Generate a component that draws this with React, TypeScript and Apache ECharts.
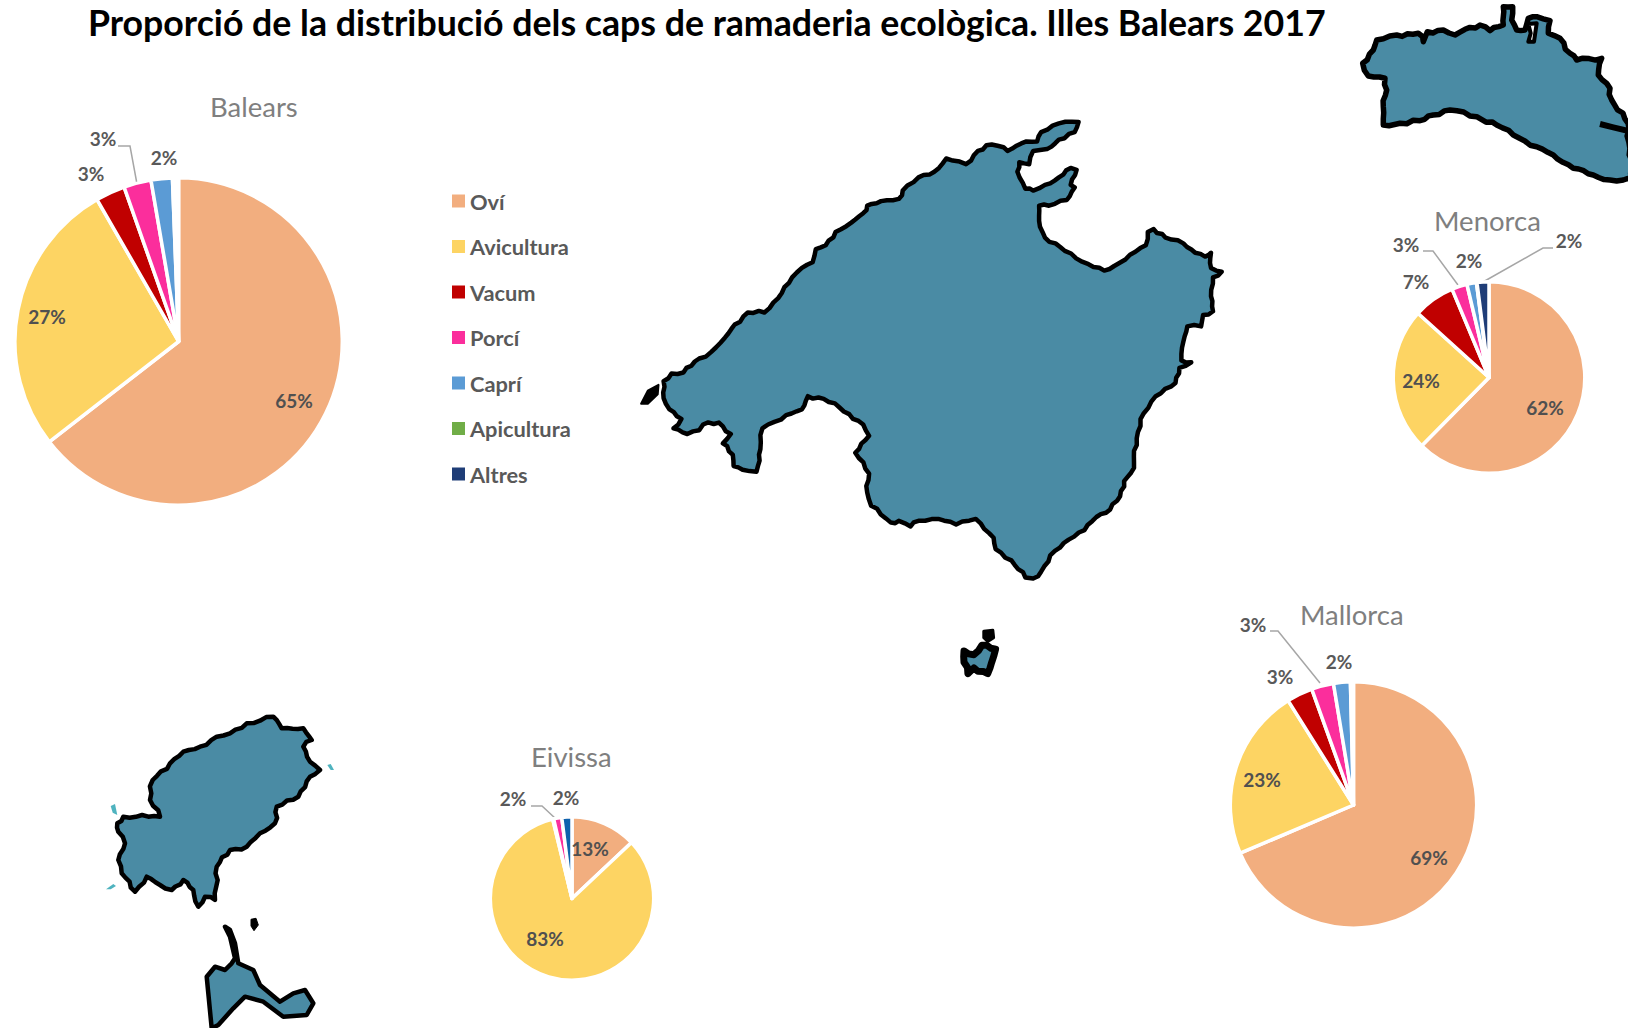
import React, { useEffect, useRef } from "react";
import * as echarts from "echarts";

const titleText = "Proporció de la distribució dels caps de ramaderia ecològica. Illes Balears 2017";
const categories = ["Oví", "Avicultura", "Vacum", "Porcí", "Caprí", "Apicultura", "Altres"];
const colors = ["#F2AE7F", "#FDD463", "#C00000", "#FB2E9C", "#5B9BD5", "#70AD47", "#1F3D77"];

const balears = [64.5, 27.2, 2.9, 2.7, 2.1, 0.2, 0.4];
const menorca = [62.4, 24.3, 7.0, 2.6, 1.6, 0.1, 2.0];
const mallorca = [68.6, 22.5, 3.4, 2.9, 2.2, 0, 0.4];
const eivissa = [13.0, 83.2, 0.2, 1.6, 2.0, 0, 0];

type Pt = number[];
const balearsLabels: (Pt | null)[] = [[294, 400], [47, 316], [91, 173], [103, 138], [164, 157], null, null];
const menorcaLabels: (Pt | null)[] = [[1545, 407], [1421, 380], [1416, 281], [1406, 244], [1469, 260], null, [1569, 240]];
const mallorcaLabels: (Pt | null)[] = [[1429, 857], [1262, 779], [1280, 676], [1253, 624], [1339, 661], null, null];
const eivissaLabels: (Pt | null)[] = [[590, 848], [545, 938], null, [513, 798], [566, 797], null, null];

const balearsLeaders: Record<number, Pt[]> = { 3: [[118, 146], [130, 146], [137, 184]] };
const menorcaLeaders: Record<number, Pt[]> = {
  3: [[1423, 251], [1433, 251], [1458, 285]],
  6: [[1553, 248], [1543, 248], [1483, 282]],
};
const mallorcaLeaders: Record<number, Pt[]> = { 3: [[1270, 631], [1278, 631], [1320, 683]] };
const eivissaLeaders: Record<number, Pt[]> = { 3: [[531, 806], [542, 806], [556, 819]] };

// Island outlines
const mallorcaOutline = [[85,745],[105,725],[135,722],[175,685],[205,668],[240,630],[265,595],[298,563],[340,563],[375,525],[410,470],[435,445],[462,430],[470,395],[495,385],[520,350],[560,325],[590,300],[600,280],[635,268],[680,262],[690,240],[730,205],[770,190],[800,155],[850,170],[880,135],[915,118],[945,125],[955,135],[990,115],[1030,110],[1040,85],[1085,62],[1135,58],[1125,85],[1085,105],[1055,130],[1020,135],[1010,170],[985,165],[980,190],[1000,235],[1020,240],[1050,225],[1085,205],[1115,180],[1130,185],[1115,225],[1125,232],[1105,265],[1060,280],[1035,280],[1035,320],[1050,365],[1100,400],[1160,435],[1200,452],[1225,440],[1265,410],[1305,385],[1310,350],[1325,342],[1355,365],[1400,380],[1430,405],[1455,415],[1470,405],[1470,445],[1497,455],[1475,470],[1470,520],[1475,560],[1450,570],[1445,600],[1410,600],[1400,640],[1395,690],[1420,695],[1390,710],[1380,750],[1330,785],[1300,830],[1285,880],[1275,930],[1275,975],[1250,1010],[1240,1050],[1215,1085],[1180,1105],[1150,1140],[1110,1165],[1075,1195],[1040,1250],[1020,1268],[1000,1265],[965,1220],[925,1190],[920,1160],[875,1110],[825,1125],[780,1110],[730,1115],[710,1130],[680,1115],[660,1120],[610,1075],[600,1040],[605,990],[570,935],[605,890],[590,860],[530,815],[490,792],[450,785],[435,820],[395,835],[335,870],[330,925],[320,985],[285,980],[262,970],[260,940],[235,910],[255,885],[225,855],[185,860],[175,875],[145,885],[110,870],[130,845],[100,820],[85,790]];
const dragonera = [[28,805],[45,770],[72,755],[70,780],[45,805]];
const cabrera = [[845,1460],[870,1470],[890,1445],[925,1455],[915,1490],[905,1520],[870,1505],[855,1520],[845,1490]];
const cabreraDot = [[895,1408],[918,1405],[920,1425],[905,1435],[895,1425]];
const menorcaOutline = [[68,190],[100,150],[110,120],[170,105],[235,100],[250,125],[262,95],[310,90],[345,105],[375,88],[420,75],[450,92],[490,75],[490,50],[490,20],[518,20],[515,60],[530,90],[555,90],[565,55],[590,50],[630,62],[625,100],[660,115],[690,160],[710,180],[785,175],[775,225],[810,265],[815,300],[864,370],[875,540],[850,540],[810,540],[760,525],[700,505],[640,465],[590,440],[520,405],[470,375],[410,350],[330,330],[280,345],[240,362],[180,370],[130,375],[130,320],[140,270],[135,235],[85,228]];
const fornells = [[565,72],[590,70],[582,125],[565,125],[572,100]];
const maoHarbour = [[780,372],[820,382],[875,395]];
const ibizaOutline = [[82,370],[100,350],[175,350],[210,350],[180,300],[188,240],[240,190],[280,155],[330,140],[380,110],[420,100],[470,70],[510,62],[550,50],[575,85],[640,85],[665,120],[640,140],[660,185],[690,210],[660,230],[625,290],[560,320],[555,370],[510,400],[470,440],[420,450],[380,500],[375,600],[345,590],[325,620],[310,570],[280,540],[245,570],[210,555],[170,530],[135,575],[95,520],[85,480],[105,430],[85,395]];
const formenteraOutline = [[350,830],[375,800],[405,810],[425,790],[435,775],[420,710],[405,680],[420,690],[435,730],[445,790],[490,810],[510,855],[570,905],[610,880],[645,870],[670,910],[650,945],[580,950],[520,905],[465,890],[430,925],[385,975],[365,985],[355,880]];
const espalmador = [[483,658],[498,655],[505,675],[492,692],[483,678]];
const ibizaIslets = [
  [[62,318],[75,312],[82,345],[68,338]],
  [[712,195],[722,192],[732,210],[722,210]],
  [[48,568],[70,552],[78,558],[62,568]],
];

// Coast wiggle for the traced outlines
function roughen(pts: number[][], amp: number) {
  if (!amp) return pts;
  const out: number[][] = [];
  let k = 0;
  pts.forEach((a, i) => {
    const b = pts[(i + 1) % pts.length];
    const dx = b[0] - a[0];
    const dy = b[1] - a[1];
    const len = Math.hypot(dx, dy) || 1;
    const n = Math.max(1, Math.ceil(len / 7));
    for (let s = 0; s < n; s++) {
      const t = s / n;
      const off = s === 0 ? 0 : amp * (Math.sin(k * 2.3) + 0.6 * Math.sin(k * 0.83));
      out.push([a[0] + dx * t - (dy / len) * off, a[1] + dy * t + (dx / len) * off]);
      k++;
    }
  });
  return out;
}

const toPath = (pts: number[][], ox: number, oy: number, sx: number, sy: number, close = true, amp = 0) =>
  roughen(pts.map((p) => [ox + p[0] / sx, oy + p[1] / sy]), amp)
    .map((p, i) => `${i ? "L" : "M"}${p[0].toFixed(1)} ${p[1].toFixed(1)}`)
    .join(" ") + (close ? " Z" : "");

const FONT = "Lato";
const TEAL = "#4A8BA4";
const MX = [630, 100, 2.53, 2.65] as const;
const ME = [1340, 0, 3, 3] as const;
const IB = [90, 700, 3, 3] as const;

function shape(name: string, d: string, fill: string, stroke: string, lineWidth: number) {
  echarts.graphic.registerShape(name, echarts.graphic.extendPath(d as any, {}) as any);
  return { type: name, x: 0, y: 0, silent: true, style: { fill, stroke, lineWidth, lineJoin: "round" } } as any;
}

function islands() {
  return [
    shape("mallorcaS", toPath(mallorcaOutline, ...MX, true, 1), TEAL, "#000", 4.5),
    shape("dragoneraS", toPath(dragonera, ...MX), "#000", "#000", 2),
    shape("cabreraS", toPath(cabrera, ...MX, true, 1), TEAL, "#000", 7),
    shape("cabreraDotS", toPath(cabreraDot, ...MX), "#000", "#000", 3),
    shape("menorcaS", toPath(menorcaOutline, ...ME, true, 1.2), TEAL, "#000", 5.5),
    shape("fornellsS", toPath(fornells, ...ME), "#fff", "#000", 4),
    shape("maoS", toPath(maoHarbour, ...ME, false), "none", "#000", 6),
    shape("ibizaS", toPath(ibizaOutline, ...IB, true, 1.2), TEAL, "#000", 4.5),
    shape("formenteraS", toPath(formenteraOutline, ...IB), TEAL, "#000", 4.5),
    shape("espalmadorS", toPath(espalmador, ...IB), "#000", "#000", 1),
    ...ibizaIslets.map((p, i) => shape("isletS" + i, toPath(p, ...IB), "#4FB3BF", "none", 0)),
  ];
}

function pie(
  name: string,
  values: number[],
  center: number[],
  radius: number,
  labels: (Pt | null)[],
  leaders: Record<number, Pt[]>,
  override: Record<number, string> = {}
) {
  return {
    type: "pie",
    name,
    center,
    radius,
    startAngle: 90,
    clockwise: true,
    avoidLabelOverlap: false,
    animation: false,
    label: {
      show: true,
      position: "outside",
      fontFamily: FONT,
      fontWeight: "bold",
      fontSize: 19,
      color: "#595959",
    },
    labelLine: { show: false, lineStyle: { color: "#A6A6A6", width: 1.5 } },
    labelLayout: (params: any) => {
      const p = labels[params.dataIndex];
      if (!p) return {};
      const out: any = { x: p[0], y: p[1], align: "center", verticalAlign: "middle" };
      const l = leaders[params.dataIndex];
      if (l) out.labelLinePoints = l;
      return out;
    },
    data: values.map((v, i) => ({
      name: categories[i],
      value: v,
      itemStyle: {
        color: override[i] || colors[i],
        borderColor: "#fff",
        borderWidth: v > 0 ? 3.5 : 0,
      },
      label: {
        show: !!labels[i],
        formatter: `${Math.round(v)}%`,
        color: i < 2 ? "#505050" : "#595959",
      },
      labelLine: { show: !!leaders[i] },
    })),
  };
}

function pieTitle(text: string, left: number, top: number) {
  return {
    text,
    left,
    top,
    padding: 0,
    textStyle: { fontFamily: FONT, fontWeight: "normal", fontSize: 27.5, color: "#7F7F7F" },
  };
}

export default function App() {
  const ref = useRef<HTMLDivElement>(null);
  useEffect(() => {
    document.body.style.margin = "0";
    const chart = echarts.init(ref.current!, null, { renderer: "svg" });
    chart.setOption({
      animation: false,
      backgroundColor: "#fff",
      title: [
        {
          text: titleText,
          left: 88,
          top: 4,
          padding: 0,
          textStyle: { fontFamily: FONT, fontWeight: "bold", fontSize: 35.7, color: "#000" },
        },
        pieTitle("Balears", 210, 92.5),
        pieTitle("Menorca", 1434, 206.5),
        pieTitle("Mallorca", 1300, 600.5),
        pieTitle("Eivissa", 531, 742.5),
      ],
      legend: {
        orient: "vertical",
        left: 452,
        top: 190,
        padding: 0,
        itemWidth: 13,
        itemHeight: 13,
        itemGap: 23.5,
        selectedMode: false,
        icon: "rect",
        itemStyle: { borderWidth: 0 },
        textStyle: { fontFamily: FONT, fontWeight: "bold", fontSize: 21.8, color: "#595959" },
        data: categories,
      },
      graphic: { elements: islands() },
      // Menorca first: its slices give the legend its colours
      series: [
        pie("Menorca", menorca, [1489, 377.5], 95.8, menorcaLabels, menorcaLeaders),
        pie("Mallorca", mallorca, [1353.5, 805], 123.2, mallorcaLabels, mallorcaLeaders, { 6: "#fff" }),
        pie("Balears", balears, [178.6, 341.5], 163.7, balearsLabels, balearsLeaders, { 5: "#fff", 6: "#fff" }),
        pie("Eivissa", eivissa, [572, 898.5], 81.7, eivissaLabels, eivissaLeaders, { 2: "#fff", 4: "#0F62AD" }),
      ],
    });
    return () => chart.dispose();
  }, []);
  return <div ref={ref} style={{ position: "fixed", left: 0, top: 0, width: 1628, height: 1028 }} />;
}
